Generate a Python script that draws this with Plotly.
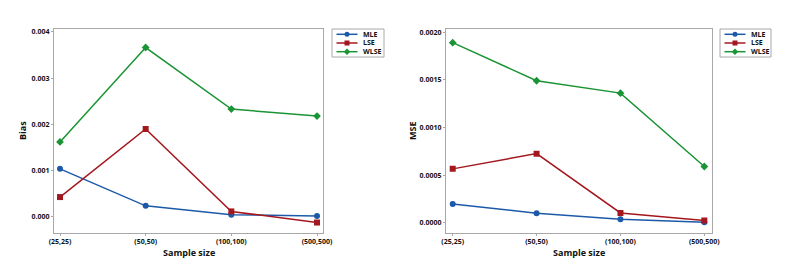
import plotly.graph_objects as go

categories = ["(25,25)", "(50,50)", "(100,100)", "(500,500)"]
methods = ["MLE", "LSE", "WLSE"]

bias_mle = [0.00104, 0.00024, 0.00005, 0.00002]
bias_lse = [0.00043, 0.00190, 0.00012, -0.00012]
bias_wlse = [0.00162, 0.00366, 0.00233, 0.00218]

mse_mle = [0.000197, 0.000099, 0.000037, 0.000006]
mse_lse = [0.000565, 0.000725, 0.000102, 0.000022]
mse_wlse = [0.00189, 0.00149, 0.00136, 0.000590]

bias_ticks = [0.000, 0.001, 0.002, 0.003, 0.004]
mse_ticks = [0.0000, 0.0005, 0.0010, 0.0015, 0.0020]

colors = {"MLE": "#1c5aa8", "LSE": "#a3181e", "WLSE": "#1a9434"}
symbols = {"MLE": "circle", "LSE": "square", "WLSE": "diamond"}

FAM = "Open Sans, DejaVu Sans, sans-serif"
W, H = 788, 274


def px(x):
    return x / W


def py(y):
    return 1 - y / H


fig = go.Figure()

for name, vals in zip(methods, [bias_mle, bias_lse, bias_wlse]):
    fig.add_trace(go.Scatter(x=categories, y=vals, name=name, mode="lines+markers",
                             line=dict(color=colors[name], width=1.5),
                             marker=dict(symbol=symbols[name], size=6, color=colors[name]),
                             xaxis="x", yaxis="y", showlegend=False))
for name, vals in zip(methods, [mse_mle, mse_lse, mse_wlse]):
    fig.add_trace(go.Scatter(x=categories, y=vals, name=name, mode="lines+markers",
                             line=dict(color=colors[name], width=1.5),
                             marker=dict(symbol=symbols[name], size=6, color=colors[name]),
                             xaxis="x2", yaxis="y2", showlegend=False))

tickfont = dict(family=FAM, size=7, color="#111111", weight="bold")
axis_common = dict(showgrid=False, zeroline=False, showline=True, mirror=True,
                   linecolor="#a8a8a8", linewidth=1, ticks="outside", ticklen=2,
                   tickcolor="#a8a8a8", tickfont=tickfont, automargin=False)

fig.update_layout(
    width=W, height=H, margin=dict(l=0, r=0, t=0, b=0, autoexpand=False),
    paper_bgcolor="white", plot_bgcolor="white", showlegend=False,
    xaxis=dict(domain=[px(54), px(323)], range=[-0.07, 3.07], type="category",
               anchor="y", **axis_common),
    yaxis=dict(domain=[py(233), py(29)], range=[-0.000346, 0.00406],
               tickvals=bias_ticks, tickformat=".3f", anchor="x", **axis_common),
    xaxis2=dict(domain=[px(446), px(711.7)], range=[-0.08, 3.088], type="category",
                anchor="y2", **axis_common),
    yaxis2=dict(domain=[py(232.7), py(29.3)], range=[-0.000105, 0.00203],
                tickvals=mse_ticks, tickformat=".4f", anchor="x2", **axis_common),
)

titlefont = dict(family=FAM, size=9, color="#111111", weight="bold")
annotations = [
    dict(text="Sample size", x=px(188.5), y=py(252), font=titlefont),
    dict(text="Sample size", x=px(578.8), y=py(252), font=titlefont),
    dict(text="Bias", x=px(22), y=py(131), textangle=-90, font=titlefont),
    dict(text="MSE", x=px(412), y=py(131), textangle=-90, font=titlefont),
]
for a in annotations:
    a.update(xref="paper", yref="paper", showarrow=False, xanchor="center", yanchor="middle")

shapes = []
legfont = dict(family=FAM, size=7, color="#111111", weight="bold")


def add_legend(x0, x1, y0, y1):
    shapes.append(dict(type="rect", xref="paper", yref="paper",
                       x0=px(x0), x1=px(x1), y0=py(y0), y1=py(y1),
                       line=dict(color="#a8a8a8", width=1), fillcolor="white"))
    for i, name in enumerate(methods):
        yy = y0 + 5.3 + i * 8.7
        lx0, lx1 = x0 + 4.5, x0 + 25.5
        cx = (lx0 + lx1) / 2
        c = colors[name]
        shapes.append(dict(type="line", xref="paper", yref="paper",
                           x0=px(lx0), x1=px(lx1), y0=py(yy), y1=py(yy),
                           line=dict(color=c, width=1.5)))
        r = 2.5
        if symbols[name] == "circle":
            shapes.append(dict(type="circle", xref="paper", yref="paper",
                               x0=px(cx - r), x1=px(cx + r), y0=py(yy - r), y1=py(yy + r),
                               line=dict(color=c, width=0), fillcolor=c))
        elif symbols[name] == "square":
            shapes.append(dict(type="rect", xref="paper", yref="paper",
                               x0=px(cx - r), x1=px(cx + r), y0=py(yy - r), y1=py(yy + r),
                               line=dict(color=c, width=0), fillcolor=c))
        else:
            d = 3.2
            path = (f"M {px(cx)},{py(yy - d)} L {px(cx + d)},{py(yy)} "
                    f"L {px(cx)},{py(yy + d)} L {px(cx - d)},{py(yy)} Z")
            shapes.append(dict(type="path", xref="paper", yref="paper", path=path,
                               line=dict(color=c, width=0), fillcolor=c))
        annotations.append(dict(text=name, xref="paper", yref="paper", x=px(x0 + 28.5),
                                y=py(yy), xanchor="left", yanchor="middle",
                                showarrow=False, font=legfont))


add_legend(332, 384, 29, 57)
add_legend(720, 771, 29, 57)

fig.update_layout(annotations=annotations, shapes=shapes)

fig.write_html("out.html", config={"displayModeBar": False},
               post_script="document.body.style.margin='0';document.body.style.overflow='hidden';")
